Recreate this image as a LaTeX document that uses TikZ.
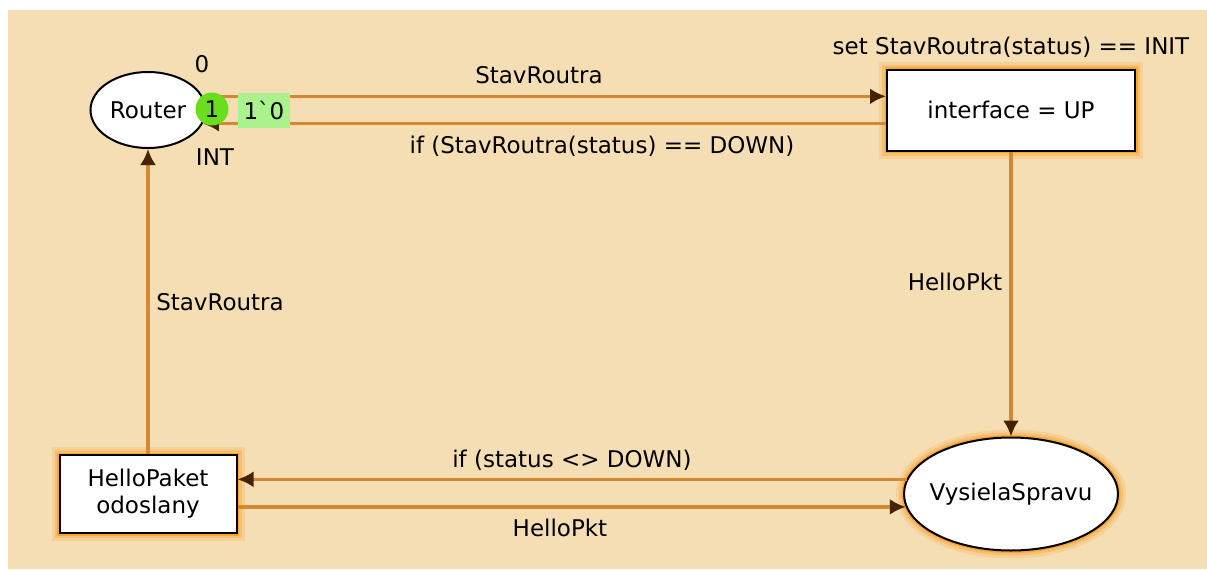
\documentclass[tikz,border=0pt]{standalone}
\usepackage{fontspec}
\setmainfont{DejaVu Sans}
\usetikzlibrary{arrows.meta,shapes.geometric}
\definecolor{bg}{RGB}{245,222,179}
\definecolor{arcc}{RGB}{212,137,48}
\definecolor{tipc}{RGB}{70,35,0}
\definecolor{glowc}{RGB}{250,160,40}
\definecolor{tokgreen}{RGB}{104,222,28}
\definecolor{markgreen}{RGB}{170,242,140}
\begin{document}
\begin{tikzpicture}[x=0.5pt,y=-0.5pt,
	every node/.style={font=\fontsize{11.5}{13.5}\selectfont,inner sep=1pt},
	place/.style={ellipse,draw,fill=white,line width=1pt,inner xsep=-3pt,inner ysep=0pt},
	trans/.style={rectangle,draw,fill=white,line width=1pt,align=center},
	glowing/.style={preaction={draw=glowc,line width=8pt,opacity=0.2},
		preaction={draw=glowc,line width=5pt,opacity=0.35},
		preaction={draw=glowc,line width=2.5pt,opacity=0.8}},
	arc/.style={draw=arcc,line width=1.6pt,-{Latex[length=8pt,width=8pt,color=tipc]}}]
\useasboundingbox (0,0) rectangle (1207,569);
\fill[bg] (8,10) rectangle (1207,569);
% places and transitions
\node[place,minimum width=57.5pt,minimum height=38pt] (router) at (148,110) {Router};
\node[trans,glowing,minimum width=124pt,minimum height=40.5pt] (iface) at (1011,110) {interface = UP};
\node[place,glowing,minimum width=107pt,minimum height=56.5pt] (vysiela) at (1011,494) {VysielaSpravu};
\node[trans,glowing,minimum width=88.5pt,minimum height=39pt] (hello) at (148,494) {HelloPaket\\odoslany};
% arcs
\draw[arc] (router.14.7) -- (router.14.7 -| iface.west);
\draw[arc] (iface.west |- router.-14.7) -- (router.-14.7);
\draw[arc] (iface.south) -- (vysiela.north);
\draw[arc] (vysiela.172.3) -- (vysiela.172.3 -| hello.east);
\draw[arc] (hello.east |- vysiela.187.7) -- (vysiela.187.7);
\draw[arc] (hello.north) -- (router.south);
% inscriptions
\node (init) at (202,64) {0};
\node (type) at (215,157) {INT};
\node (guard) at (1011,47) {set StavRoutra(status) == INIT};
\node (lbl1) at (539,75) {StavRoutra};
\node (lbl2) at (602,146) {if (StavRoutra(status) == DOWN)};
\node (lbl3) at (955,282) {HelloPkt};
\node (lbl4) at (572,460) {if (status <> DOWN)};
\node (lbl5) at (560,528) {HelloPkt};
\node (lbl6) at (220,302) {StavRoutra};
% marking
\node[circle,fill=tokgreen,minimum size=16.5pt,inner sep=0pt] (token) at (212,109) {1};
\node[fill=markgreen,minimum width=26pt,minimum height=17.5pt] (mark) at (264,110) {1ˋ0};
\end{tikzpicture}
\end{document}
